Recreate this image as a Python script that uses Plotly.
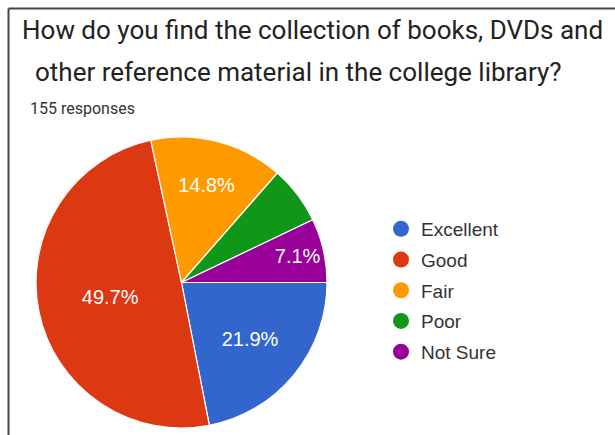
import plotly.graph_objects as go

categories = ["Excellent", "Good", "Fair", "Poor", "Not Sure"]
counts = [34, 77, 23, 10, 11]
colors = ["#3366CC", "#DC3912", "#FF9900", "#109618", "#990099"]
shown_labels = [True, True, True, False, True]

W, H = 615, 435

texttemplate = ["%{percent:.1%}" if s else "" for s in shown_labels]

fig = go.Figure()
fig.add_trace(go.Pie(
    labels=categories, values=counts, sort=False, direction="clockwise",
    rotation=90, marker=dict(colors=colors, line=dict(color="white", width=1.2)),
    texttemplate=texttemplate, textposition="inside", insidetextorientation="horizontal",
    textfont=dict(color="white", size=20, family="Liberation Sans, Arial"),
    showlegend=False, hoverinfo="label+percent",
    domain=dict(x=[36 / W, 327 / W], y=[(H - 428) / H, (H - 137) / H]),
))

for name, col in zip(categories, colors):
    fig.add_trace(go.Scatter(
        x=[None], y=[None], mode="markers", name=name, legendgroup=name,
        marker=dict(symbol="circle", size=16, color=col),
    ))

fig.update_layout(
    width=W, height=H, margin=dict(l=0, r=0, t=0, b=0),
    paper_bgcolor="white", plot_bgcolor="white",
    xaxis=dict(visible=False), yaxis=dict(visible=False),
    legend=dict(x=381 / W, y=(H - 210) / H, xanchor="left", yanchor="top",
                font=dict(family="Liberation Sans, Arial", size=19, color="#333333"),
                tracegroupgap=3, itemwidth=30, bgcolor="rgba(0,0,0,0)"),
    annotations=[
        dict(text="How do you find the collection of books, DVDs and", x=20 / W, y=(H - 30) / H,
             xref="paper", yref="paper", xanchor="left", yanchor="middle", showarrow=False,
             font=dict(family="Roboto", size=26, color="#222222")),
        dict(text="other reference material in the college library?", x=33 / W, y=(H - 72) / H,
             xref="paper", yref="paper", xanchor="left", yanchor="middle", showarrow=False,
             font=dict(family="Roboto", size=26, color="#222222")),
        dict(text="155 responses", x=28 / W, y=(H - 108) / H,
             xref="paper", yref="paper", xanchor="left", yanchor="middle", showarrow=False,
             font=dict(family="Roboto", size=16, color="#333333")),
    ],
    shapes=[
        dict(type="line", xref="paper", yref="paper", x0=8.5 / W, x1=1, y0=(H - 8.5) / H, y1=(H - 8.5) / H,
             line=dict(color="#444444", width=2)),
        dict(type="line", xref="paper", yref="paper", x0=8.5 / W, x1=8.5 / W, y0=0, y1=(H - 8.5) / H,
             line=dict(color="#444444", width=2)),
    ],
)

fig.write_html("out.html", config={"displayModeBar": False},
               post_script="document.body.style.margin='0px';")
